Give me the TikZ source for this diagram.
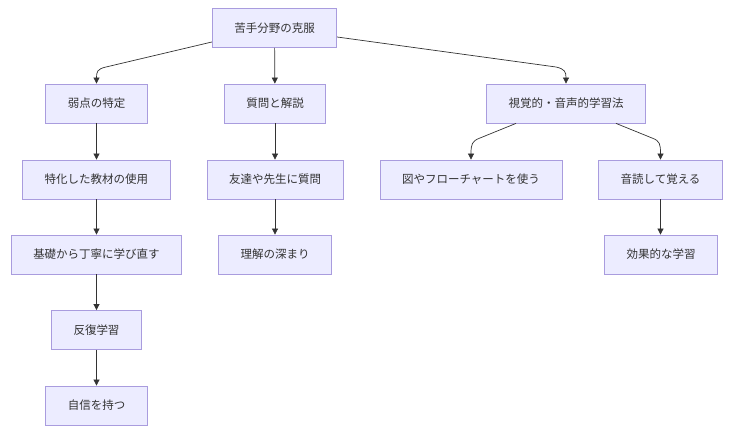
\documentclass[tikz,border=0pt]{standalone}
\usepackage{fontspec}
\setmainfont{Noto Sans CJK JP}
\usetikzlibrary{arrows.meta}
\definecolor{boxfill}{HTML}{ECECFF}
\definecolor{boxline}{HTML}{A99CDE}
\definecolor{edgecol}{HTML}{333333}
\begin{document}
\begin{tikzpicture}[x=1pt, y=-1pt,
    box/.style={draw=boxline, fill=boxfill, line width=0.8pt, minimum height=39pt,
        inner xsep=22pt, font=\fontsize{11.5pt}{13pt}\selectfont, text=edgecol},
    edge/.style={draw=edgecol, line width=0.7pt, -{Triangle[length=6pt,width=6pt]}}]
    \useasboundingbox (0,0) rectangle (729,444);
    % oberste Ebene
    \node[box] (root) at (274.5,28) {苦手分野の克服};
    \node[box] (weak) at (96.5,103.5) {弱点の特定};
    \node[box] (ask) at (275,103.5) {質問と解説};
    \node[box] (vis) at (566,103.5) {視覚的・音声的学習法};
    % zweite Ebene
    \node[box] (mat) at (96.5,179.5) {特化した教材の使用};
    \node[box] (friend) at (275,179.5) {友達や先生に質問};
    \node[box] (fig) at (471,179.5) {図やフローチャートを使う};
    \node[box] (read) at (660.5,179.5) {音読して覚える};
    % dritte Ebene und darunter
    \node[box] (basic) at (96.5,254.5) {基礎から丁寧に学び直す};
    \node[box] (deep) at (275,254.5) {理解の深まり};
    \node[box] (effect) at (661,254.5) {効果的な学習};
    \node[box] (rep) at (96.5,330) {反復学習};
    \node[box] (conf) at (96.5,405.5) {自信を持つ};
    % Verbindungen
    \draw[edge] (root.west |- 0,42) -- (106,67) .. controls (97,69) and (96.5,72) .. (weak.north);
    \draw[edge] (root) -- (ask);
    \draw[edge] (root.east |- 0,37) -- (556,67) .. controls (565,69) and (566,72) .. (vis.north);
    \draw[edge] (vis.south -| 516,0) -- (480,138) .. controls (472,141) and (471,144) .. (fig.north);
    \draw[edge] (vis.south -| 616,0) -- (652,138) .. controls (660,141) and (660.5,144) .. (read.north);
    \draw[edge] (weak) -- (mat);
    \draw[edge] (mat) -- (basic);
    \draw[edge] (basic) -- (rep);
    \draw[edge] (rep) -- (conf);
    \draw[edge] (ask) -- (friend);
    \draw[edge] (friend) -- (deep);
    \draw[edge] (read.south) -- (read.south |- effect.north);
\end{tikzpicture}
\end{document}
